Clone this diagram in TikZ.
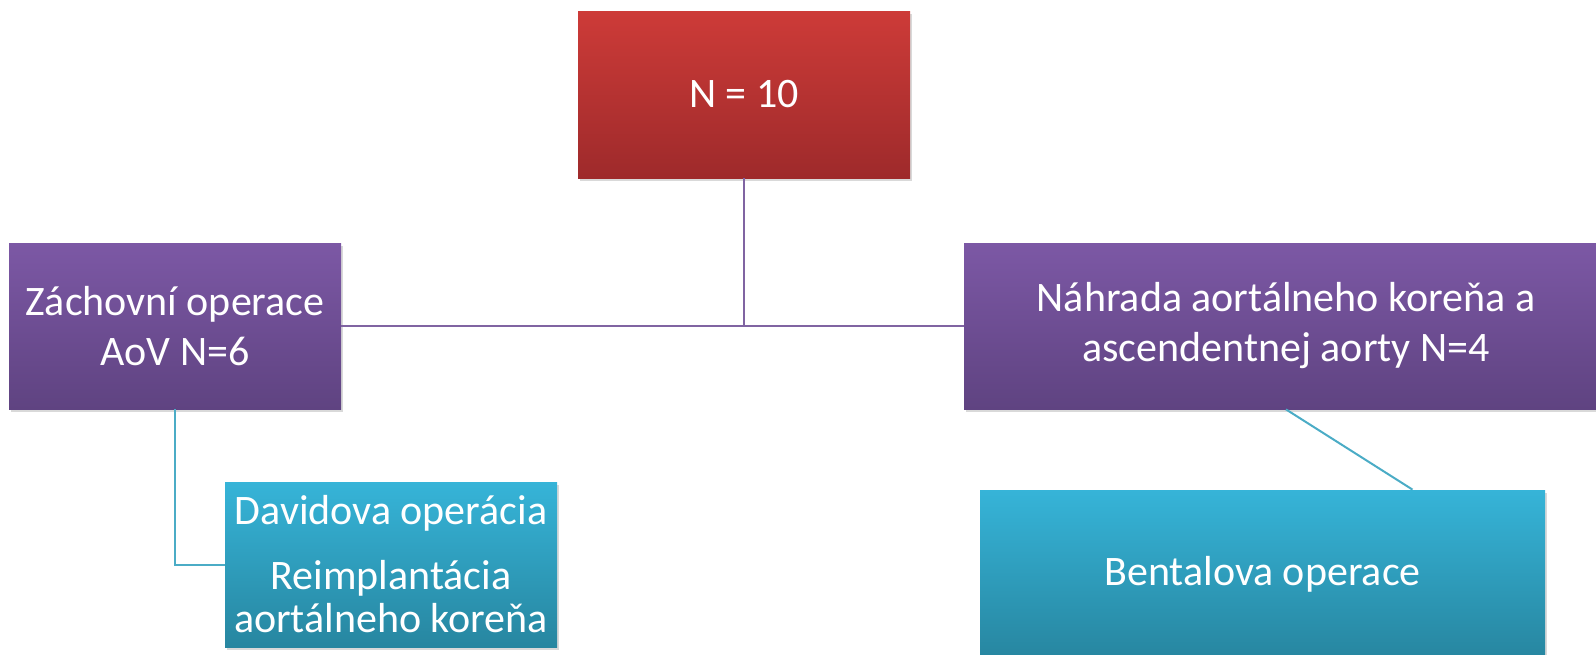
\documentclass[tikz,border=0pt]{standalone}
\usepackage{fontspec}
\setmainfont{Carlito}
\usetikzlibrary{shadows}
\definecolor{redtop}{HTML}{CD3B38}
\definecolor{redbot}{HTML}{9E2A2B}
\definecolor{purtop}{HTML}{7C58A5}
\definecolor{purbot}{HTML}{5F4381}
\definecolor{cyantop}{HTML}{36B4D8}
\definecolor{cyanbot}{HTML}{2786A0}
\definecolor{purline}{HTML}{8064A2}
\definecolor{cyanline}{HTML}{4BACC6}
\begin{document}
\begin{tikzpicture}
  [x=0.5pt,y=-0.5pt,
   box/.style={rectangle,inner sep=0pt,text=white,align=center,
     font=\fontsize{21}{25}\selectfont,
     drop shadow={shadow xshift=1pt,shadow yshift=-1.5pt,opacity=0.3}},
   redbox/.style={box,top color=redtop,bottom color=redbot},
   purbox/.style={box,top color=purtop,bottom color=purbot},
   cyanbox/.style={box,top color=cyantop,bottom color=cyanbot}]
  \useasboundingbox (0,0) rectangle (1596,654);
  \node[redbox,minimum width=166pt,minimum height=83.5pt] (total) at (744,94.5) {N = 10};
  \node[purbox,minimum width=166pt,minimum height=83pt] (zach) at (175,326) {Záchovní operace\\AoV N=6};
  \node[purbox,minimum width=322pt,minimum height=83pt] (nahr) at (1286,326) {Náhrada aortálneho koreňa a\\ascendentnej aorty N=4};
  \node[cyanbox,minimum width=166pt,minimum height=82.5pt,font=\fontsize{21}{21.5}\selectfont] (david) at (391,564.5)
    {Davidova operácia\\[11pt]Reimplantácia\\aortálneho koreňa};
  \node[cyanbox,minimum width=282.5pt,minimum height=84pt] (bental) at (1262.5,574) {Bentalova operace};
  \coordinate (bentin) at ([xshift=75pt]bental.north);

  \draw[purline,line width=1pt] (zach.east) -- (nahr.west);
  \draw[purline,line width=1pt] (total.south) -- (total.south |- zach.east);
  \draw[cyanline,line width=1pt] (zach.south) |- (david.west);
  \draw[cyanline,line width=1pt] (nahr.south) -- (bentin);
\end{tikzpicture}
\end{document}
